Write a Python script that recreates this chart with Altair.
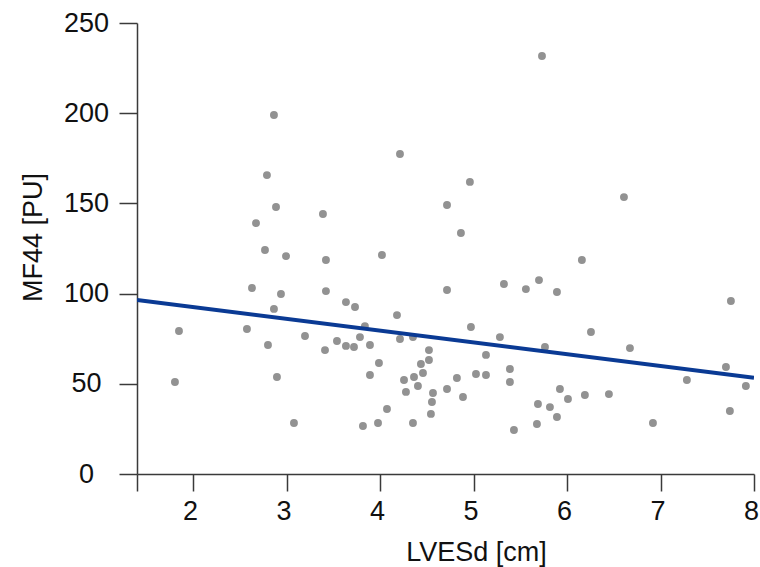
import altair as alt
import pandas as pd

# LVESd [cm]
lvesd = [
    2.865, 4.213, 2.79, 2.887, 3.389, 4.716, 2.673, 5.732, 4.961, 6.609, 4.865,
    2.769, 2.994, 3.421, 4.02, 2.63, 2.94, 3.421, 4.716, 3.635, 3.732, 2.865,
    4.181, 3.838, 1.849, 2.576, 3.197, 3.785, 4.213, 4.352, 3.539, 3.635, 3.721,
    3.892, 2.801, 3.411, 4.523, 4.523, 4.437, 3.988, 4.459, 3.892, 2.897, 4.363,
    4.256, 1.806, 4.405, 4.716, 4.277, 4.566, 4.555, 4.074, 4.544, 3.079, 3.817,
    3.978, 4.352,
    6.159, 5.325, 5.56, 5.70, 5.892, 7.753, 4.972, 5.282, 6.256, 5.764, 6.673,
    5.133, 4.822, 5.026, 5.133, 5.389, 5.389, 7.70, 7.282, 7.913, 4.887, 5.924,
    6.01, 6.191, 6.448, 5.689, 5.817, 5.892, 7.742, 5.432, 5.678, 6.919,
]
# MF44 [PU]
mf44 = [
    199.0, 177.4, 165.7, 148.0, 144.1, 149.1, 139.1, 231.7, 161.9, 153.5, 133.6,
    124.2, 120.8, 118.6, 121.4, 103.1, 99.8, 101.4, 102.0, 95.3, 92.6, 91.5,
    88.1, 82.0, 79.3, 80.4, 76.5, 75.9, 74.8, 75.9, 73.7, 71.0, 70.4,
    71.5, 71.5, 68.7, 68.7, 63.2, 61.0, 61.5, 56.0, 54.9, 53.8, 53.8,
    52.1, 51.0, 48.8, 47.1, 45.5, 44.9, 39.9, 36.0, 33.3, 28.3, 26.6,
    28.3, 28.3,
    118.6, 105.3, 102.5, 107.5, 100.9, 95.9, 81.5, 75.9, 78.7, 70.4, 69.8,
    66.0, 53.2, 55.4, 54.9, 58.2, 51.0, 59.3, 52.1, 48.8, 42.7, 47.1,
    41.6, 43.8, 44.3, 38.8, 37.1, 31.6, 34.9, 24.4, 27.7, 28.3,
]
# regression line end points
fit_x = [1.4, 8.0]
fit_y = [96.5, 53.3]

x_ticks = [1.4, 2, 3, 4, 5, 6, 7, 8]
y_ticks = [0, 50, 100, 150, 200, 250]

pts = pd.DataFrame({"LVESd": lvesd, "MF44": mf44})
fit = pd.DataFrame({"LVESd": fit_x, "MF44": fit_y})

FONT = "Liberation Sans"
AX = "#3a3a3a"

xscale = alt.Scale(domain=[1.4, 8], nice=False, zero=False)
yscale = alt.Scale(domain=[0, 250], nice=False)

xaxis = alt.Axis(
    values=x_ticks, tickCount=30, tickMinStep=0.1,
    labelExpr="datum.value < 1.9 ? '' : datum.label", format="d",
    title="LVESd [cm]", grid=False, tickSize=17, labelPadding=7, labelOffset=-3,
    labelOverlap=False, labelBound=False, labelFlush=False,
    labelBaseline="top", titleBaseline="alphabetic", titleAlign="center",
    titleX=339, titleY=86,
)
yaxis = alt.Axis(
    values=y_ticks, tickCount=30, tickMinStep=1, format="d", title="MF44 [PU]", grid=False,
    tickSize=18, labelPadding=33, labelAlign="center", labelBaseline="middle",
    labelOverlap=False, labelFlush=False,
    titleAngle=270, titleBaseline="alphabetic", titleAlign="center",
    titleX=-96, titleY=214,
)

points = alt.Chart(pts).mark_circle(size=62, color="#929292", opacity=1).encode(
    x=alt.X("LVESd:Q", scale=xscale, axis=xaxis),
    y=alt.Y("MF44:Q", scale=yscale, axis=yaxis),
)
line = alt.Chart(fit).mark_line(color="#0a3a94", strokeWidth=4, clip=True).encode(
    x=alt.X("LVESd:Q", scale=xscale, axis=xaxis),
    y=alt.Y("MF44:Q", scale=yscale, axis=yaxis),
)

chart = (
    alt.layer(points, line)
    .properties(
        width=617, height=451,
        autosize=alt.AutoSizeParams(type="none"),
        padding={"left": 137, "top": 23, "right": 6, "bottom": 93},
        background="white",
    )
    .configure_view(stroke=None)
    .configure_axis(
        domainColor=AX, domainWidth=1.5, tickColor=AX, tickWidth=1.5,
        labelFont=FONT, labelFontSize=27, labelColor="#111111",
        titleFont=FONT, titleFontSize=27, titleColor="#111111", titleFontWeight="normal",
    )
)

chart.save("out.html", embed_options={"renderer": "svg", "actions": False})
